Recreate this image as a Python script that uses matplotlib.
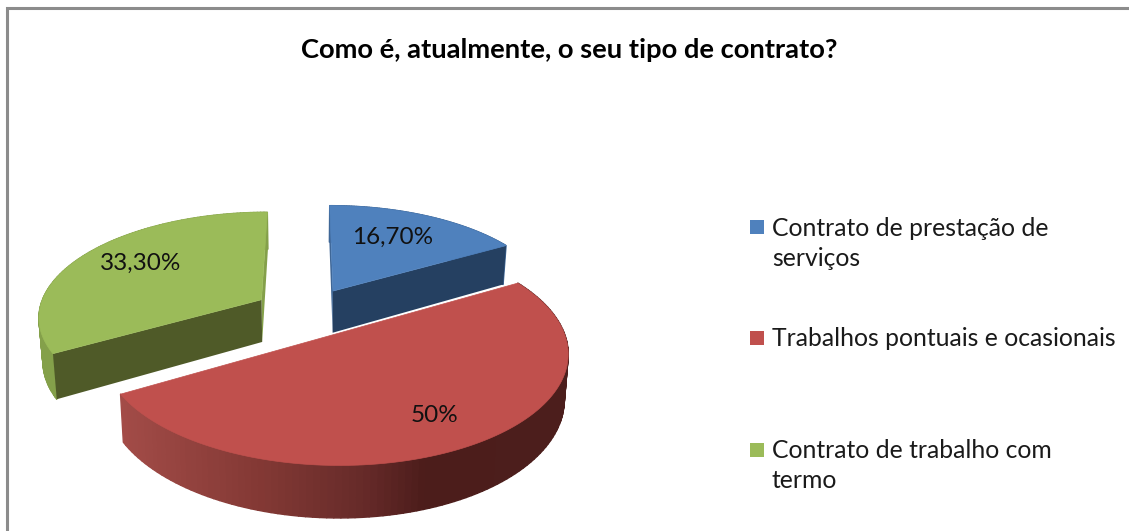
import numpy as np
import matplotlib
matplotlib.use("Agg")
import matplotlib.pyplot as plt
from matplotlib.colors import to_rgb
from matplotlib.collections import PolyCollection
from matplotlib.patches import Polygon, Rectangle

plt.rcParams['font.family'] = ['Lato', 'DejaVu Sans']

# ====== DATA ======
title = "Como é, atualmente, o seu tipo de contrato?"
categories = ["Contrato de prestação de\nserviços",
              "Trabalhos pontuais e ocasionais",
              "Contrato de trabalho com\ntermo"]
values = [16.7, 50, 33.3]
value_labels = ["16,70%", "50%", "33,30%"]

# ====== STYLE ======
top_colors = ["#4f81bd", "#c0504d", "#9bbb59"]
cut_colors = ["#254061", "#632523", "#4f5a28"]
edge_colors = ["#3f6797", "#7a3230", "#84a04a"]
label_pos = [(393, 237), (435, 416), (141, 263)]
legend_y = [228, 339, 450]
legend_sw = [227, 338, 450]

# pie projection, in pixels
OX, OY = 307, 312
A, B = 223, 104
PERSP = 0.15
DEPTH = 43
SHRINK = 0.985
EXPLODE = 0.24

# shading of the red outer wall, by pixel x
red_x = [122, 133, 267, 367, 427, 570]
red_rgb = np.array([to_rgb(c) for c in
                    ["#a34b47", "#a04a46", "#823834", "#662a29", "#4c1d1b", "#4c1e1c"]])


def project(X, Y, bottom=False):
    X, Y = np.asarray(X, float), np.asarray(Y, float)
    w = 1 + PERSP * Y
    px = A * X / w
    py = OY - B * Y / w
    if bottom:
        px = px * SHRINK
        py = py + DEPTH / w
    return OX + px, py


fig = plt.figure(figsize=(11.29, 5.31), dpi=100)
ax = fig.add_axes([0, 0, 1, 1])
ax.set_xlim(0, 1129)
ax.set_ylim(531, 0)
ax.axis('off')

# chart frame
ax.plot([7, 7, 1129], [531, 8, 8], color="#8c8c8c", lw=2.2, solid_joinstyle='miter')

# ---- 3D pie, back slices first ----
edges = np.cumsum([0] + values) / sum(values) * 2 * np.pi
for i in [0, 2, 1]:
    t0, t1 = edges[i], edges[i + 1]
    mid = (t0 + t1) / 2
    ox, oy = EXPLODE * np.sin(mid), EXPLODE * np.cos(mid)
    theta = np.linspace(t0, t1, 120)
    X, Y = ox + np.sin(theta), oy + np.cos(theta)
    tx, ty = project(X, Y)
    bx, by = project(X, Y, bottom=True)

    # outer wall
    quads = [[(tx[j], ty[j]), (tx[j + 1], ty[j + 1]), (bx[j + 1], by[j + 1]), (bx[j], by[j])]
             for j in range(len(theta) - 1)]
    if i == 1:
        cols = np.column_stack([np.interp(tx[:-1], red_x, red_rgb[:, k]) for k in range(3)])
    else:
        cols = [edge_colors[i]] * len(quads)
    ax.add_collection(PolyCollection(quads, facecolors=cols, edgecolors=cols, linewidths=1.0))

    # cut faces, the red ones stay hidden behind its top
    px, py = project(ox, oy)
    pbx, pby = project(ox, oy, bottom=True)
    if i != 1:
        dark, light = (-1, 0) if i == 0 else (0, -1)
        ax.add_patch(Polygon([(px, py), (tx[light], ty[light]), (bx[light], by[light]), (pbx, pby)],
                             fc=edge_colors[i], ec='none'))
        ax.add_patch(Polygon([(px, py), (tx[dark], ty[dark]), (bx[dark], by[dark]), (pbx, pby)],
                             fc=cut_colors[i], ec='none'))

    # top face
    ax.add_patch(Polygon(np.column_stack([np.r_[px, tx], np.r_[py, ty]]),
                         fc=top_colors[i], ec=top_colors[i], lw=0.5))

    ax.text(label_pos[i][0], label_pos[i][1], value_labels[i], fontsize=17.5,
            color="#111111", ha='center', va='center')

# ---- title ----
ax.text(569, 50, title, fontsize=19.7, fontweight='bold', color="black", ha='center', va='center')

# ---- legend ----
for name, c, y, sy in zip(categories, top_colors, legend_y, legend_sw):
    ax.add_patch(Rectangle((750, sy - 7), 14, 14, fc=c, ec='none'))
    for n, line in enumerate(name.split("\n")):
        ax.text(772, y + n * 31, line, fontsize=17.8, color="#1a1a1a", ha='left', va='center')

plt.savefig("out.png", dpi=100)
